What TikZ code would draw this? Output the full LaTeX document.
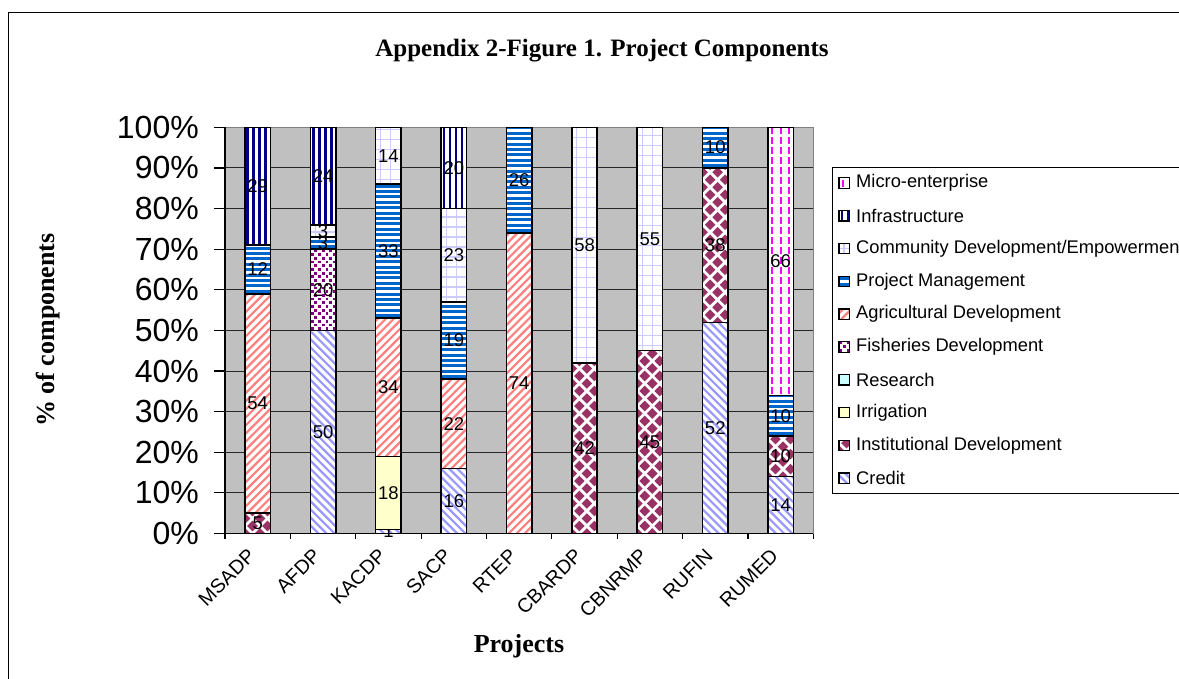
\documentclass[tikz,border=0pt]{standalone}
\usepackage{fontspec}
\setmainfont{Liberation Serif}
\newfontfamily\arialfont{Liberation Sans}
\definecolor{plotgray}{HTML}{C0C0C0}
\definecolor{creditcol}{HTML}{9999FF}
\definecolor{agricol}{HTML}{FF8080}
\definecolor{pmcol}{HTML}{0066CC}
\definecolor{infracol}{HTML}{000080}
\definecolor{commcol}{HTML}{CCCCFF}
\definecolor{fishcol}{HTML}{800080}
\definecolor{instcol}{HTML}{993366}
\definecolor{irrigcol}{HTML}{FFFFCC}
\definecolor{researchcol}{HTML}{CCFFFF}
\definecolor{microcol}{HTML}{FF00FF}
\def\sw{path picture bounding box.south west}
\tikzset{
  % texts
  charttitle/.style={font=\fontsize{25}{30}\selectfont\bfseries},
  axtitle/.style={font=\fontsize{26}{31}\selectfont\bfseries},
  ylab/.style={anchor=east, inner sep=0pt, font=\arialfont\fontsize{32}{38}\selectfont},
  xlab/.style={anchor=east, inner sep=0pt, rotate=45, font=\arialfont\fontsize{19.8}{24}\selectfont},
  val/.style={inner sep=0pt, font=\arialfont\fontsize{18.5}{22}\selectfont},
  legtext/.style={anchor=west, inner sep=0pt, font=\arialfont\fontsize{18.3}{22}\selectfont},
  % lines
  frame/.style={black, line width=1pt},
  gridline/.style={black!85, line width=1pt},
  axis/.style={black, line width=1.2pt},
  seg/.style={draw=black, line width=1.5pt},
  swatch/.style={draw=black, line width=1.2pt},
  % series fills, drawn inside each box
  credit/.style={fill=white, path picture={
    \foreach \k in {0,...,45}
      \draw[creditcol, line width=2.2pt] ([xshift=\k*8.1pt]\sw) -- ++(-360pt,360pt);}},
  inst/.style={fill=white, path picture={
    \foreach \i in {0,1,2} \foreach \j in {0,...,13} {
      \fill[instcol] ([shift={(\i*15pt,\j*15pt)}]\sw) ++(-5.3pt,0pt) -- ++(5.3pt,5.3pt)
        -- ++(5.3pt,-5.3pt) -- ++(-5.3pt,-5.3pt) -- cycle;
      \fill[instcol] ([shift={(\i*15pt+7.5pt,\j*15pt+7.5pt)}]\sw) ++(-5.3pt,0pt) -- ++(5.3pt,5.3pt)
        -- ++(5.3pt,-5.3pt) -- ++(-5.3pt,-5.3pt) -- cycle;
    }}},
  irrig/.style={fill=irrigcol},
  research/.style={fill=researchcol},
  fish/.style={fill=white, path picture={
    \foreach \i in {0,...,3} \foreach \j in {0,...,11} {
      \fill[fishcol] ([shift={(\i*7.4pt+0.4pt,\j*7.4pt+0.4pt)}]\sw) rectangle ++(2.8pt,2.8pt);
      \fill[fishcol] ([shift={(\i*7.4pt+4.1pt,\j*7.4pt+4.1pt)}]\sw) rectangle ++(2.8pt,2.8pt);
    }}},
  agri/.style={fill=white, path picture={
    \foreach \k in {0,...,45}
      \draw[agricol, line width=2.2pt] ([xshift=\k*8.1pt-330pt]\sw) -- ++(360pt,360pt);}},
  pm/.style={fill=white, path picture={
    \foreach \j in {0,...,26}
      \fill[pmcol] ([shift={(-2pt,\j*5.4pt+1pt)}]\sw) rectangle ++(40pt,3pt);}},
  comm/.style={fill=white, path picture={
    \foreach \i in {0,...,2}
      \draw[commcol, line width=1.1pt] ([xshift=\i*10pt+5pt]\sw) -- ++(0pt,300pt);
    \foreach \j in {0,...,25}
      \draw[commcol, line width=1.1pt] ([yshift=\j*10pt+5pt]\sw) -- ++(40pt,0pt);}},
  infra/.style={fill=white, path picture={
    \foreach \i in {0,...,4}
      \fill[infracol] ([xshift=\i*6pt+1.5pt]\sw) rectangle ++(2.7pt,420pt);}},
  micro/.style={fill=white, path picture={
    \foreach \i in {0,...,3} \foreach \j in {0,...,28}
      \draw[microcol, line width=2pt] ([shift={(\i*8.4pt+4.2pt,\j*10pt+1.5pt)}]\sw) -- ++(0pt,7pt);}},
}
\begin{document}
\begin{tikzpicture}[x=1pt, y=-1pt]
  \useasboundingbox (0,0) rectangle (1179,678);
  \clip (0,0) rectangle (1179,678);
  \fill[white] (0,0) rectangle (1179,678);
  % chart frame and titles
  \draw[frame] (8,690) -- (8,12) -- (1190,12);
  \node[charttitle] (title) at (602,51) {Appendix 2-Figure 1. Project Components};
  \node[axtitle, rotate=90] (ytitle) at (48,330) {\% of components};
  \node[axtitle] (xtitle) at (519,646) {Projects};

  % plot area: x in categories, y in percent
  \begin{scope}[shift={(225pt,-533.5pt)}, x=65.37pt, y=4.062pt]
    \fill[plotgray] (0,0) rectangle (9,100);
    \foreach \p in {10,20,...,90}
      \draw[gridline] (0,\p) -- (9,\p);
    \draw[gray, line width=1pt] (0,100) -- (9,100) -- (9,0);
    \draw[axis] (0,100) -- (0,0) -- (9,0);
    \foreach \p in {0,10,...,100} {
      \draw[axis] (0,\p) -- ++(-11pt,0);
      \node[ylab] (y\p) at ([xshift=-26pt]0,\p) {\p\%};
    }
    \foreach \k in {0,...,9}
      \draw[axis] (\k,0) -- ++(0,-5pt);

    % stacked bars
    \foreach \c/\proj/\segs in {
      0.5/MSADP/{inst/5,agri/54,pm/12,infra/29},
      1.5/AFDP/{credit/50,fish/20,pm/3,comm/3,infra/24},
      2.5/KACDP/{credit/1,irrig/18,agri/34,pm/33,comm/14},
      3.5/SACP/{credit/16,agri/22,pm/19,comm/23,infra/20},
      4.5/RTEP/{agri/74,pm/26},
      5.5/CBARDP/{inst/42,comm/58},
      6.5/CBNRMP/{inst/45,comm/55},
      7.5/RUFIN/{credit/52,inst/38,pm/10},
      8.5/RUMED/{credit/14,inst/10,pm/10,micro/66}} {
      \gdef\lo{0}
      \foreach \s/\v in \segs {
        \pgfmathsetmacro\hi{\lo+\v}
        \draw[seg, \s] ([xshift=-12.7pt]\c,\lo) rectangle ([xshift=12.7pt]\c,\hi);
        \node[val] (\proj-\s) at (\c,{(\lo+\hi)/2}) {\v};
        \xdef\lo{\hi}
      }
      \node[xlab] (\proj) at ([xshift=-6pt, yshift=-19pt]\c,0) {\proj};
    }
  \end{scope}

  % legend
  \draw[frame] (832.3,167.3) rectangle (1260,493);
  \foreach \s/\lab [count=\k from 0] in {
    micro/Micro-enterprise,
    infra/Infrastructure,
    comm/{Community Development/Empowerment},
    pm/Project Management,
    agri/Agricultural Development,
    fish/Fisheries Development,
    research/Research,
    irrig/Irrigation,
    inst/Institutional Development,
    credit/Credit} {
    \draw[swatch, \s] (839,183+32.8*\k-5.2) rectangle ++(10.4,10.4);
    \node[legtext] (leg-\s) at (856,183+32.8*\k) {\lab};
  }
\end{tikzpicture}
\end{document}
